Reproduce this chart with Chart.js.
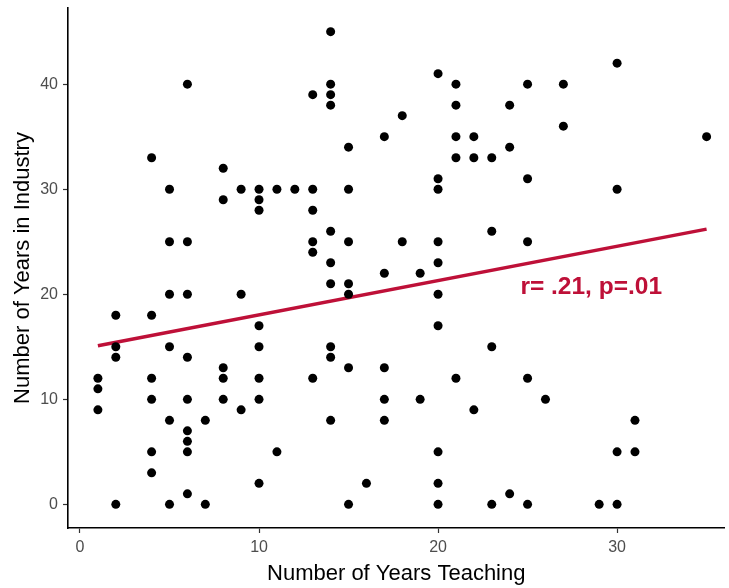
<!DOCTYPE html>
<html>
<head>
<meta charset="utf-8">
<script src="https://cdn.jsdelivr.net/npm/chart.js@4/dist/chart.umd.min.js"></script>
<style>
  html, body { margin: 0; padding: 0; background: #fff; }
  #scatter { display: block; }
</style>
</head>
<body>
<canvas id="scatter" width="729" height="588"></canvas>
<script>
// years teaching / years in industry, one entry per respondent
const teachingYears = [
  1, 1, 1,
  2, 2, 2, 2,
  4, 4, 4, 4, 4, 4,
  5, 5, 5, 5, 5, 5,
  6, 6, 6, 6, 6, 6, 6, 6, 6,
  7, 7,
  8, 8, 8, 8, 8,
  9, 9, 9,
  10, 10, 10, 10, 10, 10, 10, 10,
  11, 11,
  12,
  13, 13, 13, 13, 13, 13,
  14, 14, 14, 14, 14, 14, 14, 14, 14, 14,
  15, 15, 15, 15, 15, 15, 15,
  16,
  17, 17, 17, 17, 17,
  18, 18,
  19, 19,
  20, 20, 20, 20, 20, 20, 20, 20, 20, 20,
  21, 21, 21, 21, 21,
  22, 22, 22,
  23, 23, 23, 23,
  24, 24, 24,
  25, 25, 25, 25, 25,
  26,
  27, 27,
  29,
  30, 30, 30, 30,
  31, 31,
  35
];
const industryYears = [
  12, 11, 9,
  18, 15, 14, 0,
  33, 18, 12, 10, 5, 3,
  30, 25, 20, 15, 8, 0,
  40, 25, 20, 14, 10, 7, 6, 5, 1,
  8, 0,
  32, 29, 13, 12, 10,
  30, 20, 9,
  30, 29, 28, 17, 15, 12, 10, 2,
  30, 5,
  30,
  39, 30, 28, 25, 24, 12,
  45, 40, 39, 38, 26, 23, 21, 15, 14, 8,
  34, 30, 25, 21, 20, 13, 0,
  2,
  35, 22, 13, 10, 8,
  37, 25,
  22, 10,
  41, 31, 30, 25, 23, 20, 17, 5, 2, 0,
  40, 38, 35, 33, 12,
  35, 33, 9,
  33, 26, 15, 0,
  38, 34, 1,
  40, 31, 25, 12, 0,
  10,
  40, 36,
  0,
  42, 30, 5, 0,
  8, 5,
  35
];

// fitted line ends
const fitX = [1, 35];
const fitY = [15.1, 26.2];

const xTicks = [0, 10, 20, 30];
const yTicks = [0, 10, 20, 30, 40];

const statLabel = 'r= .21, p=.01';
const statPos = [24.6, 20];

const RED = '#BE1038';
const FONT = '"Liberation Sans", Arial, Helvetica, sans-serif';

const points = teachingYears.map((x, i) => ({ x: x, y: industryYears[i] }));
const fitLine = fitX.map((x, i) => ({ x: x, y: fitY[i] }));

const statText = {
  id: 'statText',
  afterDatasetsDraw(chart) {
    const ctx = chart.ctx;
    const x = chart.scales.x.getPixelForValue(statPos[0]);
    const y = chart.scales.y.getPixelForValue(statPos[1]);
    ctx.save();
    ctx.font = 'bold 24.5px ' + FONT;
    ctx.fillStyle = RED;
    ctx.textAlign = 'left';
    ctx.textBaseline = 'alphabetic';
    ctx.fillText(statLabel, x, y);
    ctx.restore();
  }
};

function axisStyle(ticks, titleText, titlePad) {
  return {
    type: 'linear',
    afterBuildTicks: (scale) => {
      scale.ticks = ticks.map(v => ({ value: v }));
    },
    ticks: {
      color: '#4D4D4D',
      font: { family: FONT, size: 16 },
      padding: 5
    },
    grid: {
      display: true,
      drawOnChartArea: false,
      drawTicks: true,
      tickLength: 5,
      tickColor: '#333333',
      tickWidth: 1.2
    },
    border: { display: true, color: '#000000', width: 1.6 },
    title: {
      display: true,
      text: titleText,
      color: '#000000',
      font: { family: FONT, size: 22 },
      padding: titlePad
    }
  };
}

// no extra room for edge tick labels, the plot box is set by layout padding
function noEdgePadding(scale) {
  scale.paddingTop = 0;
  scale.paddingBottom = 0;
  scale.paddingLeft = 0;
  scale.paddingRight = 0;
}

const xAxis = axisStyle(xTicks, 'Number of Years Teaching', { top: 0, bottom: 1 });
xAxis.min = -0.67;
xAxis.max = 36.0;
xAxis.afterFit = (scale) => { scale.height = 60; noEdgePadding(scale); };

const yAxis = axisStyle(yTicks, 'Number of Years in Industry', { top: 10, bottom: 0 });
yAxis.min = -2.25;
yAxis.max = 47.25;
yAxis.afterFit = (scale) => { scale.width = 68; noEdgePadding(scale); };

new Chart('scatter', {
  type: 'scatter',
  data: {
    datasets: [
      {
        label: 'respondents',
        data: points,
        backgroundColor: '#000000',
        borderWidth: 0,
        pointRadius: 4.5,
        pointHoverRadius: 4.5
      },
      {
        type: 'line',
        label: 'fit',
        data: fitLine,
        borderColor: RED,
        borderWidth: 3.5,
        pointRadius: 0,
        fill: false,
        tension: 0
      }
    ]
  },
  options: {
    responsive: false,
    animation: false,
    layout: { padding: { top: 8, right: 0, bottom: 0, left: 0 } },
    plugins: {
      legend: { display: false },
      tooltip: { enabled: false }
    },
    scales: { x: xAxis, y: yAxis }
  },
  plugins: [statText]
});
</script>
</body>
</html>
